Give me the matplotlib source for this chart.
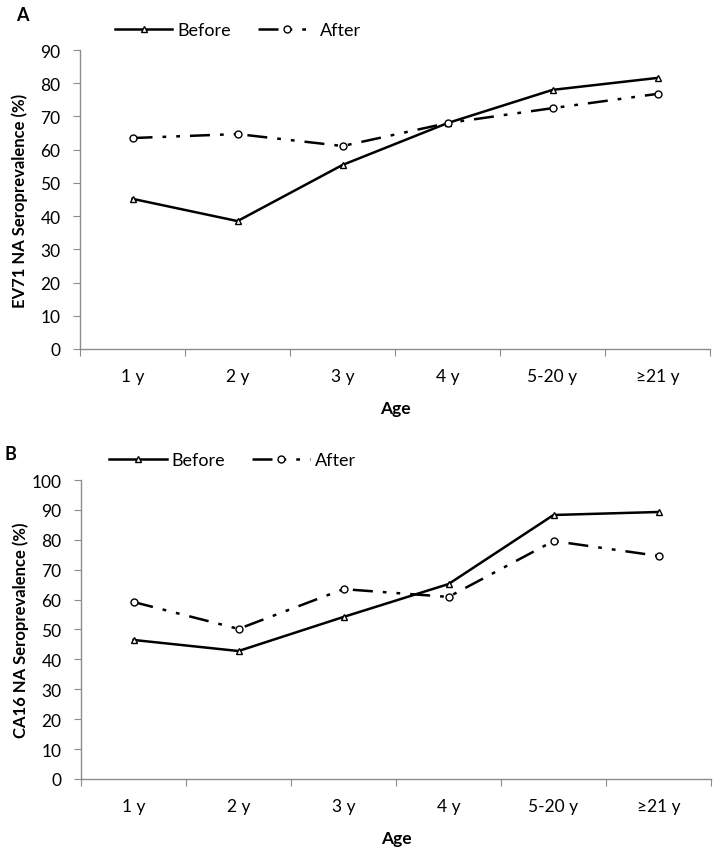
import matplotlib
matplotlib.use('Agg')
import matplotlib.pyplot as plt

ages = ['1 y', '2 y', '3 y', '4 y', '5-20 y', '≥21 y']
ev71_before = [45.2, 38.5, 55.4, 68.0, 78.0, 81.6]
ev71_after = [63.5, 64.7, 61.1, 68.0, 72.5, 76.8]
ca16_before = [46.5, 42.8, 54.2, 65.2, 88.3, 89.3]
ca16_after = [59.2, 50.2, 63.5, 60.9, 79.6, 74.6]

plt.rcParams['font.family'] = ['Lato', 'DejaVu Sans']

GREY = '#8c8c8c'


def draw_panel(ax, before, after, ylabel, ymax, letter, fig, xtext, ytext, legx):
    x = range(len(ages))
    ax.plot(x, before, color='black', lw=1.8, marker='^', ms=5,
            mfc='white', mec='black', mew=1, label='Before')
    ax.plot(x, after, color='black', lw=1.8, marker='o', ms=5,
            mfc='white', mec='black', mew=1, dashes=[8, 4, 1.5, 4, 1.5, 4],
            label='After')
    ax.set_xlim(-0.5, len(ages) - 0.5)
    ax.set_ylim(0, ymax)
    ax.set_yticks(range(0, ymax + 1, 10))
    ax.set_xticks([i - 0.5 for i in range(len(ages) + 1)])
    ax.set_xticklabels([])
    ax.set_xticks(list(x), minor=True)
    ax.set_xticklabels(ages, minor=True)
    ax.tick_params(axis='x', which='minor', length=0, pad=14, labelsize=12.5)
    ax.tick_params(axis='x', which='major', length=5, color=GREY, direction='out')
    ax.tick_params(axis='y', length=5, color=GREY, labelsize=12.5, pad=9)
    for s in ['top', 'right']:
        ax.spines[s].set_visible(False)
    for s in ['left', 'bottom']:
        ax.spines[s].set_color(GREY)
        ax.spines[s].set_linewidth(1)
    ax.set_ylabel(ylabel, fontsize=12, fontweight='bold')
    ax.yaxis.set_label_coords(-0.083, 0.5)
    ax.set_xlabel('Age', fontsize=12.5, fontweight='bold', labelpad=11)
    ax.legend(loc='lower left', bbox_to_anchor=(legx, 1.04), ncol=2, frameon=False,
              fontsize=13, handlelength=3.2, columnspacing=1.5,
              borderaxespad=0, borderpad=0, handletextpad=0.25)
    fig.text(xtext, ytext, letter, fontsize=13, fontweight='bold', va='center')


fig = plt.figure(figsize=(7.17, 8.53), dpi=100)
ax1 = fig.add_axes([0.1116, 0.5897, 0.8787, 0.3505])
ax2 = fig.add_axes([0.1130, 0.0856, 0.8787, 0.3505])

draw_panel(ax1, ev71_before, ev71_after, 'EV71 NA Seroprevalence (%)', 90, 'A',
           fig, 0.023, 0.982, 0.055)
draw_panel(ax2, ca16_before, ca16_after, 'CA16 NA Seroprevalence (%)', 100, 'B',
           fig, 0.006, 0.467, 0.045)

fig.savefig('out.png', dpi=100)
